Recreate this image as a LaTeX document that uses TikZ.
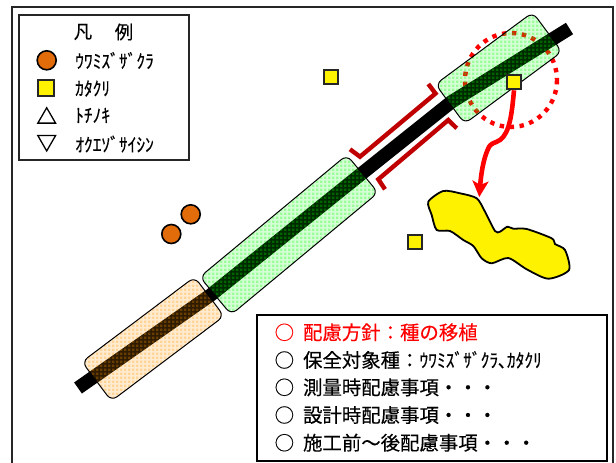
\documentclass[tikz,border=0pt]{standalone}
\usepackage{fontspec}
\setmainfont{Noto Sans CJK JP}[FakeBold=0.25]
\newfontfamily\kanafont{Noto Sans CJK JP}[FakeStretch=0.92,FakeBold=0.25]
\usetikzlibrary{patterns,arrows.meta,shapes.geometric}
\pgfdeclarepatternformonly{fg}{\pgfpointorigin}{\pgfqpoint{4pt}{4pt}}{\pgfqpoint{4pt}{4pt}}{\pgfpathrectangle{\pgfqpoint{0pt}{0pt}}{\pgfqpoint{3pt}{3pt}}\pgfusepath{fill}}
\definecolor{orangeM}{HTML}{E36C0A}
\definecolor{bracketRed}{HTML}{C00000}
\definecolor{hatchOrange}{HTML}{FF9900}
\definecolor{hatchGreen}{HTML}{00FF00}
\newcommand{\cgap}{\hspace{9pt}}
\tikzset{
  x=1pt,y=-1pt,
  frameline/.style={draw=black!85,line width=2pt},
  plant/.style={circle,draw=black,line width=1.6pt,fill=orangeM,minimum size=19pt,inner sep=0pt},
  sqr/.style={rectangle,draw=black!85,line width=2pt,fill=yellow,minimum size=14pt,inner sep=0pt},
  tri/.style={regular polygon,regular polygon sides=3,draw=black,line width=1.3pt,minimum size=20.5pt,inner sep=0pt,outer sep=0pt},
  legtext/.style={anchor=west,inner sep=0pt,font=\fontsize{19}{19}\kanafont},
  bodytext/.style={anchor=west,inner sep=0pt,font=\fontsize{19.4}{20}\selectfont},
  titletext/.style={inner sep=0pt,font=\fontsize{18.5}{19}\selectfont},
  tint/.style={rectangle,rounded corners=7pt,inner sep=0pt,minimum height=49pt,fill opacity=.16},
  hatch/.style={rectangle,rounded corners=7pt,inner sep=0pt,minimum height=49pt,draw=black,line width=1pt,fill opacity=.28},
  bracketline/.style={draw=bracketRed,line width=4.4pt,miter limit=10},
}
\begin{document}
\begin{tikzpicture}
\useasboundingbox (0,0) rectangle (616,463);
\fill[white] (0,0) rectangle (616,463);
% outer frame
\draw[frameline] (12,463) -- (12,6.7) -- (612.8,6.7) -- (612.8,463);
% legend box
\node[draw=black!85,line width=2pt,minimum width=170pt,minimum height=145pt,inner sep=0pt] (legend) at (103.5,87.5) {};
\node[titletext] (legTitleA) at (83,32) {凡};
\node[titletext] (legTitleB) at (124,32) {例};
\node[plant] (legPlant) at (46.7,60.3) {};
\node[sqr,minimum size=16pt] (legSq) at (45.8,88) {};
\node[tri] (legUp) at (46.7,118) {};
\node[tri,shape border rotate=180] (legDown) at (46.7,140.7) {};
\node[legtext] (t1) at (75,60.5) {ｳﾜﾐｽﾞｻﾞｸﾗ};
\node[legtext] (t2) at (75,88.5) {ｶﾀｸﾘ};
\node[legtext] (t3) at (75,115.5) {ﾄﾁﾉｷ};
\node[legtext] (t4) at (75,144) {ｵｸｴｿﾞｻｲｼﾝ};
% dotted circle and road (under the translucent zones)
\coordinate (roadA) at (78,388);
\coordinate (roadB) at (210.7,295);
\coordinate (roadC) at (364,171.7);
\coordinate (roadD) at (451.7,101.7);
\coordinate (roadE) at (569.5,28.5);
\draw[red,line width=4.4pt,dash pattern=on 4.4pt off 5.6pt] (511,80) ellipse (46 and 47);
\draw[black,line width=13.5pt,line join=round] (roadA) -- (roadB) -- (roadC) -- (roadD) -- (roadE);
% zones
\node[tint,rotate=36.5,minimum width=121pt,fill=hatchGreen] (z1a) at (498.7,68) {};
\node[hatch,rotate=36.5,minimum width=121pt,pattern=fg,pattern color=hatchGreen] (z1b) at (498.7,68) {};
\node[tint,rotate=39.7,minimum width=191pt,fill=hatchGreen] (z2a) at (289,234.8) {};
\node[hatch,rotate=39.7,minimum width=191pt,pattern=fg,pattern color=hatchGreen] (z2b) at (289,234.8) {};
\node[tint,rotate=37,minimum width=141pt,fill=hatchOrange,fill opacity=.18] (z3a) at (153,339) {};
\node[hatch,rotate=37,minimum width=141pt,pattern=fg,pattern color=hatchOrange] (z3b) at (153,339) {};
% brackets
\coordinate (ba1) at (428.3,84); \coordinate (ba2) at (435.5,93.5); \coordinate (ba3) at (360,156.7); \coordinate (ba4) at (350,149.3);
\coordinate (bb1) at (456.7,128.3); \coordinate (bb2) at (448.3,120); \coordinate (bb3) at (378.3,179.3); \coordinate (bb4) at (385,189.3);
\draw[bracketline] (ba1) -- (ba2) -- (ba3) -- (ba4);
\draw[bracketline] (bb1) -- (bb2) -- (bb3) -- (bb4);
% plants
\node[plant] (p1) at (190.7,214.3) {};
\node[plant] (p2) at (171.3,234) {};
\node[sqr] (s1) at (331.3,77.3) {};
\node[sqr] (s2) at (415.3,242) {};
% blob
\draw[fill=yellow,draw=black,line width=1.8pt] plot[smooth cycle,tension=.45] coordinates {
(428.3,201.7)(443.3,191)(460,193.3)(476.7,198.3)(485,211.7)(495,231)(500,231.7)(507.3,226.7)(513.3,228.7)(526.7,229)(551.7,238.3)(555,244)(565,250)(569,270)(548.3,278.7)(526.7,269.3)(508.3,258)(491.7,263.3)(481.7,258.3)(473.3,246)(463.3,240)(450,231)(436.7,230)(431.7,215)};
% transplant arrow
\node[sqr] (s3) at (514,82.3) {};
\coordinate (blobTop) at (479.3,197);
\draw[red,line width=4.6pt,-{Stealth[length=16pt,width=16pt,inset=4pt]}] (s3.south) .. controls (512,112) and (510,133) .. (500,140) .. controls (494,144) and (491,142) .. (488,149) .. controls (483,160) and (481,175) .. (blobTop);
% text box
\node[draw=black,line width=2pt,fill=white,minimum width=350pt,minimum height=145.5pt,inner sep=0pt] (info) at (431.7,387.8) {};
\node[bodytext,text=red] (b1) at (274.5,332.3) {○\cgap 配慮方針：種の移植};
\node[bodytext] (b2) at (274.5,360) {○\cgap 保全対象種：{\fontsize{19}{20}\kanafont ｳﾜﾐｽﾞｻﾞｸﾗ､ｶﾀｸﾘ}};
\node[bodytext] (b3) at (274.5,387.3) {○\cgap 測量時配慮事項・・・};
\node[bodytext] (b4) at (274.5,415) {○\cgap 設計時配慮事項・・・};
\node[bodytext] (b5) at (274.5,442.7) {○\cgap 施工前～後配慮事項・・・};
\end{tikzpicture}
\end{document}
